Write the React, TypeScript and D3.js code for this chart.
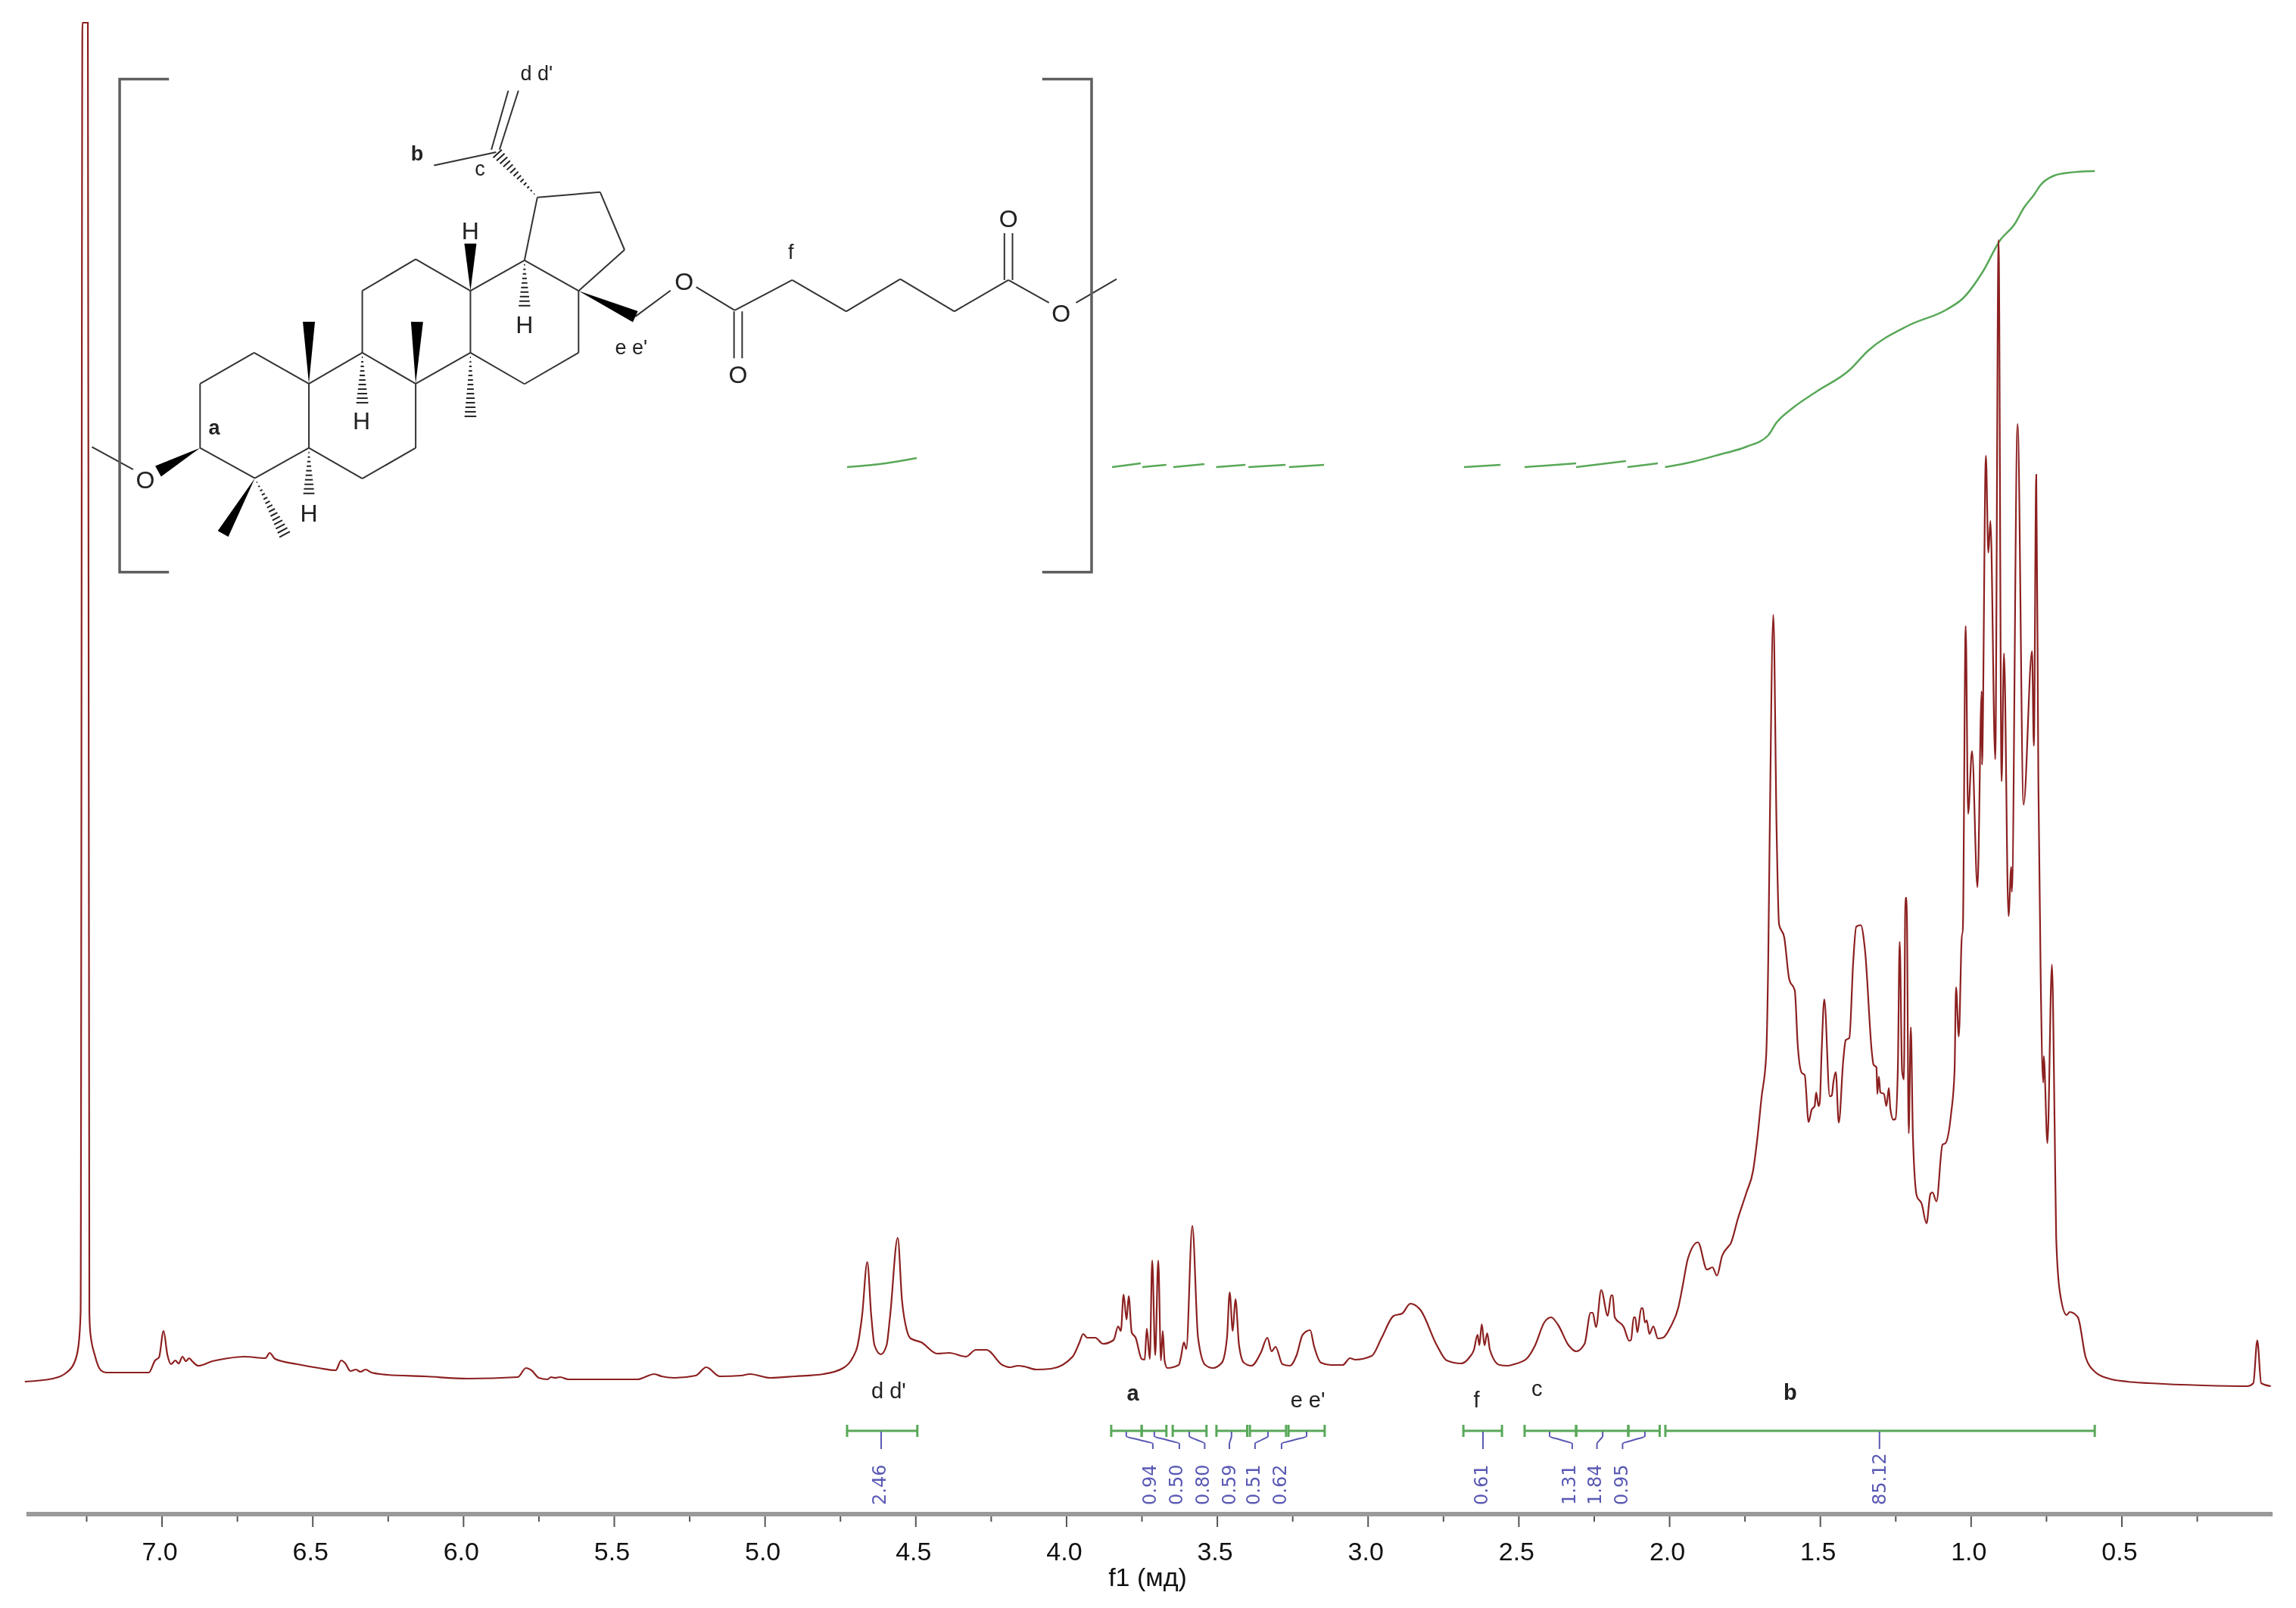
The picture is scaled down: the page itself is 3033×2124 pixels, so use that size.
import React from "react";
import * as d3 from "d3";

const WIDTH = 3033;
const HEIGHT = 2124;

// ---------- spectrum: [ppm, intensity] ----------
const spectrumAromatic: [number, number][] = [
  [7.455,5],[7.362,9],[7.317,17],[7.291,30],[7.277,53],[7.27,97],[7.264,1800],[7.246,1800],[7.241,97],[7.238,70],[7.223,40],[7.203,20],[7.186,17],
  [7.044,17],[7.023,33],[7.01,37],[6.995,72],[6.982,40],[6.97,28],[6.956,33],[6.945,29],[6.932,38],[6.921,32],[6.91,36],[6.9,32],[6.88,26],
  [6.833,32],[6.78,36],[6.727,38],[6.657,36],[6.643,43],[6.625,35],[6.551,28],[6.48,23],[6.424,20],[6.406,33],[6.392,29],[6.375,19],[6.357,21],
  [6.342,18],[6.325,21],[6.305,17],[6.252,14],[6.129,12],[5.987,9],[5.82,11],[5.793,23],[5.775,20],[5.75,10],[5.722,8],[5.71,11],[5.697,10],
  [5.68,11],[5.652,8],[5.424,8],[5.367,15],[5.343,12],[5.3,10],[5.23,13],[5.195,24],[5.15,12],[5.08,13],[5.05,15],[4.983,10],[4.901,12],
];
const spectrumOlefin: [number, number][] = [
  [4.806,15],[4.741,23],[4.709,37],[4.693,53],[4.678,93],[4.661,163],[4.648,93],[4.637,53],[4.616,41],[4.597,53],[4.585,93],[4.56,195],
  [4.546,113],[4.53,73],[4.517,62],[4.482,57],[4.429,42],[4.389,43],[4.334,38],[4.301,47],[4.266,47],[4.213,27],[4.188,24],[4.161,26],[4.14,25],
  [4.1,21],[4.052,22],
];
const spectrumMidfield: [number, number][] = [
  [3.98,38],[3.957,57],[3.945,68],[3.932,63],[3.905,63],[3.879,55],[3.844,60],[3.829,78],[3.82,72],[3.811,120],[3.801,87],[3.794,118],[3.784,70],
  [3.771,63],[3.751,35],[3.741,34],[3.734,75],[3.724,35],[3.716,165],[3.706,40],[3.696,165],[3.687,33],[3.681,72],[3.675,33],[3.666,23],[3.628,27],
  [3.621,37],[3.611,57],[3.603,48],[3.583,211],[3.564,63],[3.54,27],[3.515,23],[3.485,30],[3.468,63],[3.459,123],[3.449,72],[3.44,114],[3.428,53],
  [3.412,30],[3.387,26],[3.356,43],[3.334,63],[3.32,45],[3.307,51],[3.284,28],[3.259,26],[3.237,40],[3.217,67],[3.192,73],[3.18,53],[3.156,30],
  [3.124,27],[3.084,27],[3.06,36],[3.043,34],[2.988,39],[2.955,63],[2.915,92],[2.887,95],[2.86,108],[2.827,100],[2.772,53],[2.739,33],[2.692,29],
  [2.664,37],[2.649,47],[2.637,67],[2.631,53],[2.623,81],[2.614,53],[2.605,69],[2.596,47],[2.564,27],[2.539,26],[2.516,28],
];
const spectrumAllylic: [number, number][] = [
  [2.475,35],[2.446,53],[2.416,83],[2.393,90],[2.37,80],[2.335,53],[2.31,45],[2.282,55],[2.262,96],[2.255,96],[2.244,77],[2.227,126],[2.205,92],
  [2.194,119],[2.189,119],[2.182,90],[2.152,77],[2.134,59],[2.128,60],[2.119,90],[2.114,90],[2.107,70],[2.094,102],[2.089,102],[2.082,83],[2.076,86],
  [2.067,68],[2.054,78],[2.039,62],[2.022,63],[1.996,78],[1.971,103],[1.956,133],[1.939,168],[1.906,189],[1.876,153],[1.858,156],[1.843,145],
  [1.826,171],[1.806,183],[1.798,187],[1.773,221],[1.745,255],[1.723,284],[1.71,323],[1.695,381],[1.68,434],[1.673,560],[1.668,730],
];
const spectrumAliphatic: [number, number][] = [
  [1.656,1018],[1.645,730],[1.637,609],[1.62,592],[1.603,536],[1.585,522],[1.575,449],[1.562,413],[1.552,410],[1.539,348],[1.529,364],[1.519,369],
  [1.514,387],[1.506,369],[1.502,374],[1.496,439],[1.487,510],[1.469,382],[1.462,383],[1.457,400],[1.449,414],[1.439,347],[1.424,430],[1.416,456],
  [1.404,459],[1.391,560],[1.381,606],[1.366,608],[1.352,575],[1.329,439],[1.324,424],[1.314,420],[1.311,385],[1.306,408],[1.301,387],[1.289,385],
  [1.281,369],[1.273,393],[1.268,366],[1.258,351],[1.251,352],[1.243,420],[1.237,586],[1.229,415],[1.223,404],[1.218,644],[1.214,644],[1.207,333],
  [1.2,473],[1.193,328],[1.18,250],[1.164,240],[1.148,214],[1.135,253],[1.128,255],[1.115,243],[1.095,318],[1.085,320],[1.067,357],[1.055,415],
  [1.05,526],[1.041,461],[1.03,597],[1.028,597],[1.018,1003],[1.01,755],[0.997,838],[0.979,658],[0.965,917],[0.964,820],[0.951,1228],[0.943,1100],
  [0.936,1142],[0.92,827],[0.909,1513],[0.899,798],[0.891,967],[0.876,620],[0.867,685],[0.865,652],[0.846,1270],[0.826,767],[0.798,970],[0.792,845],
  [0.784,1203],[0.777,797],[0.769,530],[0.761,400],[0.759,435],[0.747,320],[0.732,556],[0.723,342],[0.718,197],[0.706,124],[0.683,93],[0.673,97],
  [0.646,90],[0.62,37],[0.588,17.5],[0.543,9],[0.482,5],[0.41,3],[0.229,0],[0.083,-1],[0.064,3],[0.051,59.5],[0.038,3],[0.006,-1],
];

// ---------- integral traces: [ppm, running integral] ----------
const integralTraces: [number, number][][] = [
  [[4.728,3],[4.6,8],[4.497,15]],
  [[3.849,3],[3.754,8]],
  [[3.749,3],[3.669,6]],
  [[3.646,3],[3.543,7]],
  [[3.504,3],[3.407,6]],
  [[3.397,3],[3.274,6]],
  [[3.262,3],[3.146,6]],
  [[2.682,3],[2.561,6]],
  [[2.481,3],[2.31,8]],
  [[2.31,3],[2.145,11]],
  [[2.14,3],[2.039,8]],
  [[2.015,3],[1.924,10],[1.835,19.5],[1.745,30],[1.673,45],[1.647,61],[1.592,81],[1.512,103],[1.404,131],[1.341,157],[1.208,190],[1.082,211],
   [1.027,226],[0.96,262],[0.905,302],[0.854,325],[0.826,345],[0.791,363],[0.771,375],[0.725,388],[0.675,392],[0.59,394]],
];

// ---------- integration table ----------
const integralStart = [4.728,3.852,3.751,3.648,3.503,3.392,3.264,2.684,2.481,2.31,2.137,2.014];
const integralEnd   = [4.495,3.751,3.669,3.536,3.401,3.272,3.144,2.556,2.31,2.137,2.033,0.59];
const integralLabels = ["2.46","0.94","0.50","0.80","0.59","0.51","0.62","0.61","1.31","1.84","0.95","85.12"];
const connectorFrom = [4.615,3.802,3.709,3.593,3.453,3.332,3.204,2.619,2.398,2.222,2.082,1.304];
const connectorTo   = [4.615,3.714,3.626,3.542,3.46,3.375,3.287,2.619,2.323,2.241,2.156,1.304];
const labelPpm      = [4.621,3.724,3.636,3.548,3.46,3.38,3.292,2.624,2.333,2.247,2.16,1.304];

// ---------- peak assignments ----------
const assignText = ["d d'","a","e e'","f","c","b"];
const assignPpm  = [4.59,3.78,3.2,2.64,2.44,1.6];
const assignBold = [false,true,false,false,false,true];
const assignHeight = [-17,-20,-29,-29,-14,-19];

const majorTicks = [7,6.5,6,5.5,5,4.5,4,3.5,3,2.5,2,1.5,1,0.5];
const minorTicks = [7.25,6.75,6.25,5.75,5.25,4.75,4.25,3.75,3.25,2.75,2.25,1.75,1.25,0.75,0.25];
const axisDomain: [number, number] = [7.45, 0];

// ---------- structure drawing, in its own drawing units ----------
const bonds: [number,number,number,number][] = [
  [184,973,264,884],[264,884,345,973],[345,973,345,1158],[345,1158,265,1245],[265,1245,184,1158],[184,1158,184,973],
  [345,973,424,884],[424,884,503,973],[503,973,503,1158],[503,1158,424,1246],[424,1246,345,1158],
  [424,884,424,706],[424,706,503,615],[503,615,584,706],[584,706,584,884],[584,884,503,973],
  [584,706,664,618],[664,618,744,706],[744,706,744,884],[744,884,664,974],[664,974,584,884],
  [664,618,683,437],[683,437,776,422],[776,422,812,588],[812,588,744,706],
  [622,307,530,345],[615,300,640,130],[627,300,655,130],
  [828,780,880,705],[918,695,975,762],[974,765,974,900],[986,765,986,900],
  [975,762,1060,675],[1060,675,1140,765],[1140,765,1220,672],[1220,672,1300,765],[1300,765,1380,675],
  [1374,675,1374,540],[1386,675,1386,540],[1380,675,1440,740],[1480,740,1540,672],[24,1155,85,1220],
];
// wedges: narrow end first, wide end second
const solidWedges: [number,number,number,number][] = [
  [184,1158,122,1225],[345,973,345,795],[503,973,505,795],[584,706,584,570],[265,1245,218,1405],[744,706,828,780],
];
const hashedWedges: [number,number,number,number][] = [
  [584,884,584,1072],[424,884,424,1030],[345,1158,345,1300],[664,618,664,755],[265,1245,310,1410],[683,437,622,307],
];
const atomXs = [103,900,980,1380,1458,584,664,423,345];
const atomYs = [1250,680,948,498,770,533,803,1080,1345];
const atomTs = ["O","O","O","O","O","H","H","H","H"];
const structLabels = ["a","b","c","d d'","e e'","f"];
const structLabelX = [205,505,598,682,822,1058];
const structLabelY = [1100,312,355,80,868,595];
const structLabelBold = [true,true,false,false,false,false];
const bracketXs = [65,1503];
const bracketCap = 73;
const bracketTop = 97;
const bracketBottom = 1515;

const SPEC = "#8c2020";
const GREEN = "#58a858";
const BLUE = "#5a5ab4";

export default function App() {
  const x = d3.scaleLinear().domain(axisDomain).range([2803 - 6.95 * 398.3, 2803 + 0.5 * 398.3]);
  const y = d3.scaleLinear().domain([0, 1800]).range([1830, 30]);
  const yInt = d3.scaleLinear().domain([0, 400]).range([620, 220]);
  const sx = d3.scaleLinear().domain([0, 1568]).range([100, 1500]);
  const sy = d3.scaleLinear().domain([0, 1568]).range([60, 780]);

  const spectrum = [...spectrumAromatic, ...spectrumOlefin, ...spectrumMidfield, ...spectrumAllylic, ...spectrumAliphatic];
  const specLine = d3.line<[number, number]>().x((d) => x(d[0])).y((d) => y(d[1])).curve(d3.curveMonotoneX);
  const intLine = d3.line<[number, number]>().x((d) => x(d[0])).y((d) => yInt(d[1])).curve(d3.curveMonotoneX);

  const barY = 1890;
  const connY = 1914;
  const connector = d3.line<[number, number]>().x((d) => d[0]).y((d) => d[1]).curve(d3.curveMonotoneY);
  const axisY = 2000;

  const wedgePoly = (w: [number,number,number,number]) => {
    const [x0, y0, x1, y1] = [sx(w[0]), sy(w[1]), sx(w[2]), sy(w[3])];
    const len = Math.hypot(x1 - x0, y1 - y0);
    const nx = -(y1 - y0) / len, ny = (x1 - x0) / len;
    return `${x0},${y0} ${x1 + nx * 8},${y1 + ny * 8} ${x1 - nx * 8},${y1 - ny * 8}`;
  };
  const hashes = (w: [number,number,number,number]) => {
    const [x0, y0, x1, y1] = [sx(w[0]), sy(w[1]), sx(w[2]), sy(w[3])];
    const len = Math.hypot(x1 - x0, y1 - y0);
    const nx = -(y1 - y0) / len, ny = (x1 - x0) / len;
    return d3.range(1, Math.floor(len / 6) + 1).map((i) => {
      const t = (i * 6) / len;
      const h = t * 8;
      const px = x0 + (x1 - x0) * t, py = y0 + (y1 - y0) * t;
      return { x1: px + nx * h, y1: py + ny * h, x2: px - nx * h, y2: py - ny * h };
    });
  };

  return (
    <svg
      width={WIDTH}
      height={HEIGHT}
      viewBox={`0 0 ${WIDTH} ${HEIGHT}`}
      style={{ position: "absolute", left: 0, top: 0, background: "#fff", filter: "blur(0.7px)" }}
      fontFamily="'Liberation Sans', Arial, sans-serif"
    >
      {/* structure */}
      <g stroke="#333" strokeWidth={2} fill="none">
        {bonds.map((b, i) => (
          <line key={i} x1={sx(b[0])} y1={sy(b[1])} x2={sx(b[2])} y2={sy(b[3])} />
        ))}
        {hashedWedges.map((w, i) =>
          hashes(w).map((h, j) => <line key={`${i}-${j}`} {...h} strokeWidth={2} stroke="#222" />)
        )}
      </g>
      <g fill="#000">
        {solidWedges.map((w, i) => (
          <polygon key={i} points={wedgePoly(w)} />
        ))}
      </g>
      <g fill="#222" fontSize={32} textAnchor="middle" dominantBaseline="central">
        {atomTs.map((t, i) => (
          <text key={i} x={sx(atomXs[i])} y={sy(atomYs[i])}>{t}</text>
        ))}
      </g>
      <g fill="#222" fontSize={27} textAnchor="middle" dominantBaseline="central">
        {structLabels.map((t, i) => (
          <text key={i} x={sx(structLabelX[i])} y={sy(structLabelY[i])} fontWeight={structLabelBold[i] ? 700 : 400}>{t}</text>
        ))}
      </g>
      <g stroke="#5f5f5f" strokeWidth={3.5} fill="none">
        <polyline points={[[bracketXs[0] + bracketCap, bracketTop],[bracketXs[0], bracketTop],[bracketXs[0], bracketBottom],[bracketXs[0] + bracketCap, bracketBottom]].map((p) => `${sx(p[0])},${sy(p[1])}`).join(" ")} />
        <polyline points={[[bracketXs[1] - bracketCap, bracketTop],[bracketXs[1], bracketTop],[bracketXs[1], bracketBottom],[bracketXs[1] - bracketCap, bracketBottom]].map((p) => `${sx(p[0])},${sy(p[1])}`).join(" ")} />
      </g>

      {/* integral traces */}
      <g fill="none" stroke={GREEN} strokeWidth={2.5}>
        {integralTraces.map((t, i) => (
          <path key={i} d={intLine(t) || ""} />
        ))}
      </g>

      {/* spectrum */}
      <path d={specLine(spectrum) || ""} fill="none" stroke={SPEC} strokeWidth={2.2} strokeLinejoin="miter" strokeMiterlimit={2} />

      {/* assignments */}
      <g fill="#222" fontSize={29} textAnchor="middle">
        {assignText.map((t, i) => (
          <text key={i} x={x(assignPpm[i])} y={1830 - assignHeight[i]} fontWeight={assignBold[i] ? 700 : 400}>{t}</text>
        ))}
      </g>

      {/* integration ranges */}
      <g stroke={GREEN} strokeWidth={3} fill="none">
        {integralStart.map((s, i) => (
          <g key={i}>
            <line x1={x(s)} x2={x(integralEnd[i])} y1={barY} y2={barY} />
            <line x1={x(s)} x2={x(s)} y1={barY - 8} y2={barY + 8} />
            <line x1={x(integralEnd[i])} x2={x(integralEnd[i])} y1={barY - 8} y2={barY + 8} />
          </g>
        ))}
      </g>
      <g stroke={BLUE} strokeWidth={2} fill="none">
        {connectorFrom.map((f, i) => {
          const a = x(f), b = x(connectorTo[i]);
          return (
            <path key={i} d={connector([[a, barY + 1],[a, barY + 7],[(a + b) / 2, barY + 12],[b, barY + 17],[b, connY]]) || ""} />
          );
        })}
      </g>
      <g fill={BLUE} fontSize={24} fontFamily="'DejaVu Sans', sans-serif">
        {integralLabels.map((t, i) => (
          <text key={i} transform={`translate(${x(labelPpm[i])},1988) rotate(-90)`} dominantBaseline="central">{t}</text>
        ))}
      </g>

      {/* axis */}
      <line x1={x(axisDomain[0])} x2={x(axisDomain[1])} y1={axisY} y2={axisY} stroke="#9a9a9a" strokeWidth={6} />
      <g stroke="#555" strokeWidth={2}>
        {majorTicks.map((t) => (
          <line key={t} x1={x(t)} x2={x(t)} y1={axisY + 3} y2={axisY + 17} />
        ))}
        {minorTicks.map((t) => (
          <line key={t} x1={x(t)} x2={x(t)} y1={axisY + 3} y2={axisY + 10} />
        ))}
      </g>
      <g fill="#111" fontSize={34} textAnchor="middle">
        {majorTicks.map((t) => (
          <text key={t} x={x(t) - 3} y={2061}>{t.toFixed(1)}</text>
        ))}
      </g>
      <text x={1516} y={2095} textAnchor="middle" fontSize={34} fill="#111">f1 (мд)</text>
    </svg>
  );
}
